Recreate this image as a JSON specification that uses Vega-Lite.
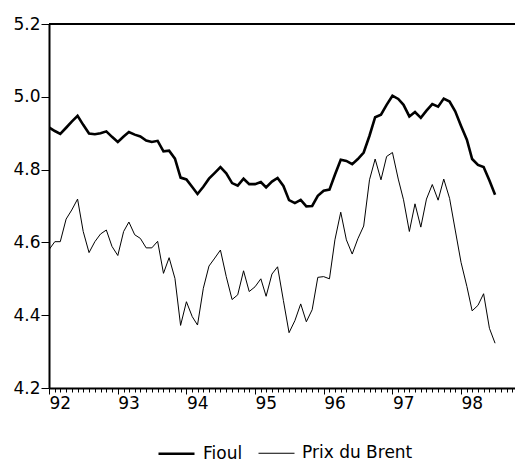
{
  "$schema": "https://vega.github.io/schema/vega-lite/v6.json",
  "autosize": {"type": "none"},
  "width": 466,
  "height": 364,
  "padding": {"left": 49, "top": 24, "right": 0, "bottom": 76},
  "background": "white",
  "config": {
    "view": {"stroke": null},
    "font": "DejaVu Sans",
    "axis": {"labelFont": "DejaVu Sans", "labelColor": "black", "grid": false, "title": null, "ticks": true}
  },
  "data": {
    "values": [
      {"date": "1992-01-01", "Fioul": 4.916, "Prix du Brent": 4.580},
      {"date": "1992-02-01", "Fioul": 4.906, "Prix du Brent": 4.602},
      {"date": "1992-03-01", "Fioul": 4.898, "Prix du Brent": 4.602},
      {"date": "1992-04-01", "Fioul": 4.915, "Prix du Brent": 4.664},
      {"date": "1992-05-01", "Fioul": 4.932, "Prix du Brent": 4.689},
      {"date": "1992-06-01", "Fioul": 4.948, "Prix du Brent": 4.719},
      {"date": "1992-07-01", "Fioul": 4.923, "Prix du Brent": 4.630},
      {"date": "1992-08-01", "Fioul": 4.899, "Prix du Brent": 4.572},
      {"date": "1992-09-01", "Fioul": 4.897, "Prix du Brent": 4.602},
      {"date": "1992-10-01", "Fioul": 4.900, "Prix du Brent": 4.623},
      {"date": "1992-11-01", "Fioul": 4.905, "Prix du Brent": 4.634},
      {"date": "1992-12-01", "Fioul": 4.890, "Prix du Brent": 4.589},
      {"date": "1993-01-01", "Fioul": 4.876, "Prix du Brent": 4.564},
      {"date": "1993-02-01", "Fioul": 4.891, "Prix du Brent": 4.630},
      {"date": "1993-03-01", "Fioul": 4.903, "Prix du Brent": 4.656},
      {"date": "1993-04-01", "Fioul": 4.896, "Prix du Brent": 4.621},
      {"date": "1993-05-01", "Fioul": 4.891, "Prix du Brent": 4.611},
      {"date": "1993-06-01", "Fioul": 4.880, "Prix du Brent": 4.585},
      {"date": "1993-07-01", "Fioul": 4.876, "Prix du Brent": 4.585},
      {"date": "1993-08-01", "Fioul": 4.879, "Prix du Brent": 4.603},
      {"date": "1993-09-01", "Fioul": 4.850, "Prix du Brent": 4.515},
      {"date": "1993-10-01", "Fioul": 4.852, "Prix du Brent": 4.558},
      {"date": "1993-11-01", "Fioul": 4.830, "Prix du Brent": 4.501},
      {"date": "1993-12-01", "Fioul": 4.778, "Prix du Brent": 4.372},
      {"date": "1994-01-01", "Fioul": 4.773, "Prix du Brent": 4.437},
      {"date": "1994-02-01", "Fioul": 4.752, "Prix du Brent": 4.396},
      {"date": "1994-03-01", "Fioul": 4.733, "Prix du Brent": 4.373},
      {"date": "1994-04-01", "Fioul": 4.753, "Prix du Brent": 4.474},
      {"date": "1994-05-01", "Fioul": 4.775, "Prix du Brent": 4.535},
      {"date": "1994-06-01", "Fioul": 4.791, "Prix du Brent": 4.557},
      {"date": "1994-07-01", "Fioul": 4.807, "Prix du Brent": 4.579},
      {"date": "1994-08-01", "Fioul": 4.790, "Prix du Brent": 4.506},
      {"date": "1994-09-01", "Fioul": 4.763, "Prix du Brent": 4.443},
      {"date": "1994-10-01", "Fioul": 4.756, "Prix du Brent": 4.456},
      {"date": "1994-11-01", "Fioul": 4.775, "Prix du Brent": 4.522},
      {"date": "1994-12-01", "Fioul": 4.760, "Prix du Brent": 4.465},
      {"date": "1995-01-01", "Fioul": 4.760, "Prix du Brent": 4.478},
      {"date": "1995-02-01", "Fioul": 4.766, "Prix du Brent": 4.500},
      {"date": "1995-03-01", "Fioul": 4.751, "Prix du Brent": 4.452},
      {"date": "1995-04-01", "Fioul": 4.767, "Prix du Brent": 4.513},
      {"date": "1995-05-01", "Fioul": 4.777, "Prix du Brent": 4.533},
      {"date": "1995-06-01", "Fioul": 4.755, "Prix du Brent": 4.440},
      {"date": "1995-07-01", "Fioul": 4.716, "Prix du Brent": 4.352},
      {"date": "1995-08-01", "Fioul": 4.708, "Prix du Brent": 4.385},
      {"date": "1995-09-01", "Fioul": 4.717, "Prix du Brent": 4.431},
      {"date": "1995-10-01", "Fioul": 4.699, "Prix du Brent": 4.382},
      {"date": "1995-11-01", "Fioul": 4.700, "Prix du Brent": 4.415},
      {"date": "1995-12-01", "Fioul": 4.728, "Prix du Brent": 4.504},
      {"date": "1996-01-01", "Fioul": 4.742, "Prix du Brent": 4.506},
      {"date": "1996-02-01", "Fioul": 4.745, "Prix du Brent": 4.500},
      {"date": "1996-03-01", "Fioul": 4.786, "Prix du Brent": 4.607},
      {"date": "1996-04-01", "Fioul": 4.827, "Prix du Brent": 4.683},
      {"date": "1996-05-01", "Fioul": 4.824, "Prix du Brent": 4.607},
      {"date": "1996-06-01", "Fioul": 4.815, "Prix du Brent": 4.568},
      {"date": "1996-07-01", "Fioul": 4.829, "Prix du Brent": 4.610},
      {"date": "1996-08-01", "Fioul": 4.847, "Prix du Brent": 4.645},
      {"date": "1996-09-01", "Fioul": 4.893, "Prix du Brent": 4.772},
      {"date": "1996-10-01", "Fioul": 4.944, "Prix du Brent": 4.829},
      {"date": "1996-11-01", "Fioul": 4.951, "Prix du Brent": 4.772},
      {"date": "1996-12-01", "Fioul": 4.978, "Prix du Brent": 4.836},
      {"date": "1997-01-01", "Fioul": 5.003, "Prix du Brent": 4.847},
      {"date": "1997-02-01", "Fioul": 4.994, "Prix du Brent": 4.774},
      {"date": "1997-03-01", "Fioul": 4.978, "Prix du Brent": 4.717},
      {"date": "1997-04-01", "Fioul": 4.946, "Prix du Brent": 4.630},
      {"date": "1997-05-01", "Fioul": 4.958, "Prix du Brent": 4.706},
      {"date": "1997-06-01", "Fioul": 4.942, "Prix du Brent": 4.642},
      {"date": "1997-07-01", "Fioul": 4.962, "Prix du Brent": 4.719},
      {"date": "1997-08-01", "Fioul": 4.980, "Prix du Brent": 4.759},
      {"date": "1997-09-01", "Fioul": 4.973, "Prix du Brent": 4.716},
      {"date": "1997-10-01", "Fioul": 4.995, "Prix du Brent": 4.774},
      {"date": "1997-11-01", "Fioul": 4.987, "Prix du Brent": 4.721},
      {"date": "1997-12-01", "Fioul": 4.960, "Prix du Brent": 4.634},
      {"date": "1998-01-01", "Fioul": 4.920, "Prix du Brent": 4.545},
      {"date": "1998-02-01", "Fioul": 4.882, "Prix du Brent": 4.479},
      {"date": "1998-03-01", "Fioul": 4.829, "Prix du Brent": 4.412},
      {"date": "1998-04-01", "Fioul": 4.813, "Prix du Brent": 4.427},
      {"date": "1998-05-01", "Fioul": 4.807, "Prix du Brent": 4.459},
      {"date": "1998-06-01", "Fioul": 4.770, "Prix du Brent": 4.364},
      {"date": "1998-07-01", "Fioul": 4.731, "Prix du Brent": 4.323}
    ]
  },
  "layer": [
    {
      "transform": [{"fold": ["Fioul", "Prix du Brent"], "as": ["serie", "valeur"]}],
      "mark": {"type": "line", "color": "black", "strokeJoin": "miter", "clip": true},
      "encoding": {
        "x": {
          "field": "date",
          "type": "temporal",
          "scale": {
            "type": "utc",
            "domain": [
              {"year": 1992, "month": 1, "date": 1, "utc": true},
              {"year": 1998, "month": 10, "date": 15, "utc": true}
            ],
            "nice": false
          },
          "axis": {
            "tickCount": {"interval": "month", "step": 1},
            "labelExpr": "utcmonth(datum.value) == 0 ? utcFormat(datum.value, '%y') : ''",
            "labelOverlap": false,
            "labelFlush": false,
            "labelBound": false,
            "labelAlign": "left",
            "labelFontSize": 17,
            "labelPadding": 1,
            "ticks": true,
            "tickSize": {"condition": {"test": "utcmonth(datum.value) == 0", "value": 6}, "value": 4},
            "tickColor": "black",
            "tickWidth": 1,
            "domainColor": "black",
            "domainWidth": 2
          }
        },
        "y": {
          "field": "valeur",
          "type": "quantitative",
          "scale": {"domain": [4.2, 5.2], "nice": false, "zero": false},
          "axis": {
            "values": [4.2, 4.4, 4.6, 4.8, 5.0, 5.2],
            "format": ".1f",
            "labelFontSize": 17,
            "labelPadding": 1,
            "ticks": true,
            "tickSize": 8,
            "tickWidth": 1,
            "tickColor": "black",
            "domainColor": "black",
            "domainWidth": 2
          }
        },
        "strokeWidth": {
          "field": "serie",
          "type": "nominal",
          "scale": {"domain": ["Fioul", "Prix du Brent"], "range": [2.6, 1]},
          "legend": {
            "title": null,
            "orient": "none",
            "direction": "horizontal",
            "legendX": 108,
            "legendY": 410,
            "symbolType": "stroke",
            "symbolSize": 1296,
            "symbolStrokeColor": "black",
            "labelFont": "DejaVu Sans",
            "labelFontSize": 17,
            "labelColor": "black",
            "labelOffset": 7,
            "columnPadding": 13
          }
        }
      }
    },
    {
      "mark": {"type": "rule", "color": "black", "strokeWidth": 1.5},
      "encoding": {"y": {"datum": 5.2}}
    }
  ]
}
